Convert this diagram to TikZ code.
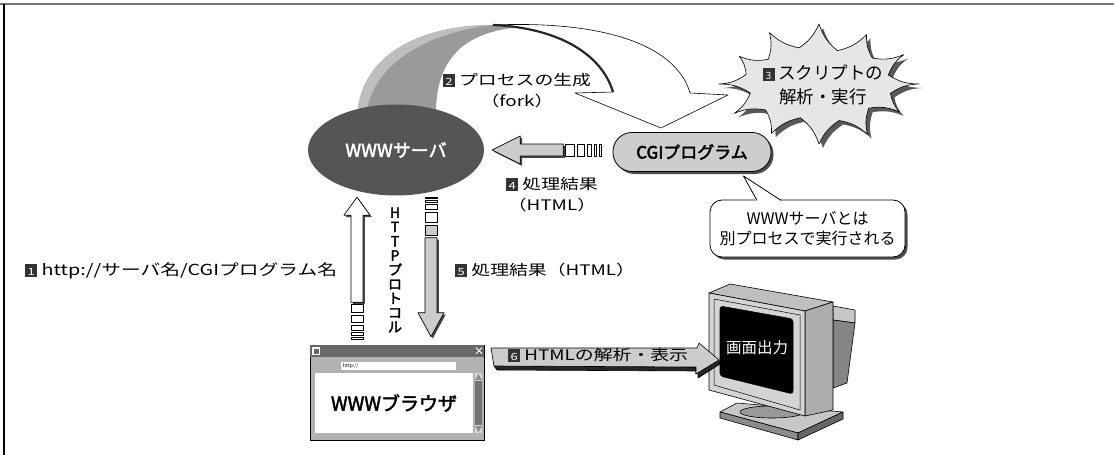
\documentclass[tikz,border=0pt]{standalone}
\usepackage{fontspec}
\setmainfont{Noto Sans CJK JP}
\newfontfamily\widefont{Noto Sans CJK JP}[FakeStretch=1.3]
\newfontfamily\boldjp{Noto Sans CJK JP}[FakeBold=2.4]
\usetikzlibrary{shapes.geometric,calc,shadows}

\definecolor{srvgray}{HTML}{555555}
\definecolor{bandgray}{HTML}{9A9A9A}
\definecolor{bandlight}{HTML}{BEBEBE}
\definecolor{burstgray}{HTML}{E6E6E6}
\definecolor{pillgray}{HTML}{CDCDCD}
\definecolor{arrowgray}{HTML}{CCCCCC}
\definecolor{badgegray}{HTML}{333333}
\definecolor{titlegray}{HTML}{686868}
\definecolor{wingray}{HTML}{B2B2B2}

% dark square with a white step number
\newcommand\numbadge[1]{{\setlength\fboxsep{0pt}\colorbox{badgegray}{\makebox[12pt][c]{\rule[-1pt]{0pt}{12.5pt}\textcolor{white}{\fontsize{10}{10}\selectfont #1}}}}}

\begin{document}
\begin{tikzpicture}[x=1pt,y=-1pt,
  lbl/.style={font=\widefont\fontsize{14.5}{21}\selectfont, inner sep=0pt, align=center},
  thinline/.style={draw=black, line width=0.7pt, line join=round},
  shadowed/.style={preaction={draw=none, fill=black!72, transform canvas={shift={(1.8pt,-1.8pt)}}}},
  dropsh/.style={drop shadow={shadow xshift=2.5pt, shadow yshift=-2.5pt, opacity=1, fill=black!70}},
  burstshape/.style={insert path={
    (919,84) foreach \i/\ro/\ri in {0/0.93/1.0, 1/0.97/0.95, 2/1.0/1.05, 3/0.95/0.97, 4/0.98/1.02,
                                    5/1.0/0.96, 6/0.92/1.02, 7/0.99/0.97, 8/1.0/1.04, 9/0.95/0.96,
                                    10/0.98/1.02, 11/1.0/0.97}
    { to[bend right=16] ({819+\ri*74*cos((\i+0.5)*30)},{84+\ri*36*sin((\i+0.5)*30)})
      to[bend right=16] ({819+\ro*100*cos((\i+1)*30)},{84+\ro*60*sin((\i+1)*30)}) } -- cycle}}
]
\useasboundingbox (0,0) rectangle (1114,455);
\fill[white] (0,0) rectangle (1114,455);

% page frame
\draw[line width=2pt, black!55] (0,3.5) -- (1114,3.5);
\draw[line width=1.6pt] (4,4) -- (4,455);

% ---- fork arrow from the server to the CGI program ----
\fill[bandgray] (357,120) .. controls (358,55) and (420,25) .. (493,25)
  .. controls (503,25) and (512,26) .. (521,27)
  .. controls (462,32) and (434,60) .. (436,120) -- cycle;
\fill[bandlight] (357,120) .. controls (358,55) and (420,25) .. (493,25)
  .. controls (430,32) and (370,62) .. (365,120) -- cycle;
\draw[thinline, fill=white, line width=0.6pt] (493,25) .. controls (615,20) and (678,50) .. (690,93)
  -- (728,95) -- (661,128) -- (575,93) -- (613,92)
  .. controls (602,55) and (560,28) .. (493,25) -- cycle;
\draw[line width=2.2pt, black!85] (613,92) .. controls (602,55) and (560,28) .. (493,25);

% ---- starburst: script parsing and execution ----
\fill[black!65, shift={(4,4)}] [burstshape];
\draw[thinline, fill=burstgray, line width=0.6pt] [burstshape];
\node[lbl, font=\fontsize{17.5}{24}\selectfont] (burst) at (823,85) {\numbadge{3} スクリプトの\\解析・実行};

% ---- server and CGI program ----
\node[ellipse, fill=srvgray, minimum width=176pt, minimum height=91pt, inner sep=0pt,
      text=white, font=\boldjp\fontsize{18}{18}\selectfont] (srv) at (396,150) {WWWサーバ};
\node[draw=black, line width=0.8pt, fill=pillgray, rounded corners=19pt, minimum width=158pt,
      minimum height=39pt, inner sep=0pt, dropsh, font=\boldjp\fontsize{17}{17}\selectfont]
      (cgi) at (692,152) {CGIプログラム};

\node[lbl] (l2) at (517,91) {\numbadge{2} プロセスの生成\\（fork）};

% ---- result arrow from CGI program to server ----
\coordinate (t4) at ($(srv.east)+(8,0)$);
\draw[thinline, fill=arrowgray, shadowed] (t4) -- ++(28,-14) -- ++(0,8) -- ++(43,0) -- ++(0,12)
  -- ++(-43,0) -- ++(0,8) -- cycle;
\foreach \a/\w in {565/9, 577/7, 587/4, 594/2.5, 599.5/1.5}
  \draw[thinline, fill=white, line width=0.6pt] (\a,144) rectangle ++(\w,12);
\node[lbl] (l4) at (552,195) {\numbadge{4} 処理結果\\（HTML）};

% ---- callout ----
\node[draw=black, line width=0.8pt, fill=white, rounded corners=12pt, minimum width=195pt,
      minimum height=57pt, inner sep=0pt, dropsh, align=center,
      font=\fontsize{16}{20}\selectfont] (note) at (807.5,228.5) {WWWサーバとは\\別プロセスで実行される};
\coordinate (ptip) at ($(cgi.south east)+(-28,4)$);
\fill[white] (756,201.5) -- (ptip) -- (782,201.5) -- cycle;
\draw[thinline, line width=0.8pt] (757,200.4) -- (ptip) -- (781,200.4);

% ---- browser window ----
\node[draw=black, line width=0.6pt, fill=wingray, minimum width=174pt, minimum height=95pt,
      inner sep=0pt] (browser) at (397,392.5) {};
\fill[titlegray] (310,345) rectangle (484,357);
\draw[white, line width=1.1pt] (313,348) rectangle (319.5,354.5);
\node[text=white, font=\boldjp\fontsize{10}{10}\selectfont, inner sep=0pt] (closeb) at (479,351) {×};
\fill[white] (341,362) rectangle (456,370);
\node[anchor=west, font=\fontsize{5}{5}\selectfont, inner sep=0pt] (url) at (343,366) {http://};
\fill[white] (315,373) rectangle (473,433);
\fill[black!15] (475,373) rectangle (482,433);
\fill[black!55] (475,381) rectangle (482,425);
\fill[black!45] (475,380) -- (478.5,374) -- (482,380) -- cycle;
\fill[black!45] (475,426) -- (478.5,432) -- (482,426) -- cycle;
\node[font=\boldjp\fontsize{19}{19}\selectfont, inner sep=0pt] (bname) at (394,403) {WWWブラウザ};

% ---- request arrow (browser to server) ----
\coordinate (t1) at ($(srv.south)+(-39,1.5)$);
\draw[thinline, fill=white, shadowed] (t1) -- ++(13,18) -- ++(-7,0) -- ++(0,87) -- ++(-12,0)
  -- ++(0,-87) -- ++(-7,0) -- cycle;
\foreach \a/\h in {304/8, 315/7, 325.5/5, 332.5/3, 337.5/2}
  \draw[thinline, fill=white, line width=0.6pt] (351,\a) rectangle ++(12,\h);

% ---- response arrow (server to browser) ----
\coordinate (t5) at ($(browser.north)+(34,-8)$);
\draw[thinline, fill=arrowgray, shadowed] (t5) -- ++(-13,-24) -- ++(7,0) -- ++(0,-75) -- ++(12,0)
  -- ++(0,75) -- ++(7,0) -- cycle;
\foreach \a/\h/\c in {197/1.5/white, 200.5/2/white, 204.5/5/white, 212.5/10/white, 225.5/10/arrowgray}
  \draw[thinline, fill=\c, line width=0.6pt] (425,\a) rectangle ++(12,\h);

\node[font=\boldjp\fontsize{14}{14.3}\selectfont, align=center, inner sep=0pt] (proto) at (395,270)
  {H\\T\\T\\P\\プ\\ロ\\ト\\コ\\ル};

\node[lbl, anchor=west, font=\widefont\fontsize{15.2}{21}\selectfont] (l1) at (25,271) {\numbadge{1} http://サーバ名/CGIプログラム名};
\node[lbl, anchor=west] (l5) at (455,270) {\numbadge{5} 処理結果（HTML）};

% ---- monitor ----
% stand
\draw[thinline, line width=0.6pt, fill=black!22] (720,412) -- (737,403) -- (843,412) -- (798,433) -- cycle;
\draw[thinline, line width=0.6pt, fill=black!45] (720,412) -- (798,433) -- (798,440) -- (720,418) -- cycle;
\draw[thinline, line width=0.6pt, fill=black!60] (798,433) -- (843,412) -- (843,419) -- (798,440) -- cycle;
\draw[thinline, line width=0.6pt, fill=black!40] (772,412) ellipse (32 and 6);
% tube
\draw[thinline, line width=0.6pt, fill=black!22] (833,306) -- (855,310) -- (855,323) -- (833,320) -- cycle;
\draw[thinline, line width=0.6pt, fill=black!48] (833,320) -- (855,323) -- (847,383) -- (833,388) -- cycle;
% cabinet
\draw[thinline, line width=0.6pt, fill=black!25] (709,293) -- (730,284) -- (833,302) -- (805,311) -- cycle;
\draw[thinline, line width=0.6pt, fill=black!32] (805,311) -- (833,302) -- (833,410) -- (805,416) -- cycle;
\draw[thinline, line width=0.6pt, fill=black!17] (709,293) -- (805,311) -- (805,416) -- (709,390) -- cycle;
\draw[thinline, line width=0.5pt] (714,299) -- (800,315) -- (800,410) -- (714,385) -- cycle;
\draw[thinline, line width=0.6pt, fill=black, rounded corners=3pt] (720,306) -- (793,319) -- (793,394) -- (720,376) -- cycle;
\node[text=white, font=\fontsize{15.5}{15.5}\selectfont, inner sep=0pt] (scr) at (757,348) {画面出力};

% ---- display arrow (browser to monitor) ----
\draw[thinline, line width=0.6pt, fill=black!85] (494,366) -- (696,367) -- (696,374) -- (719,360)
  -- (720,364) -- (698,378) -- (698,371) -- (497,370) -- cycle;
\draw[thinline, line width=0.6pt, fill=arrowgray] (491,348) -- (697,348) -- (699,343) -- (719,360)
  -- (696,374) -- (696,367) -- (494,366) -- cycle;
\node[lbl, anchor=west] (l6) at (508,355) {\numbadge{6} HTMLの解析・表示};
\end{tikzpicture}
\end{document}
